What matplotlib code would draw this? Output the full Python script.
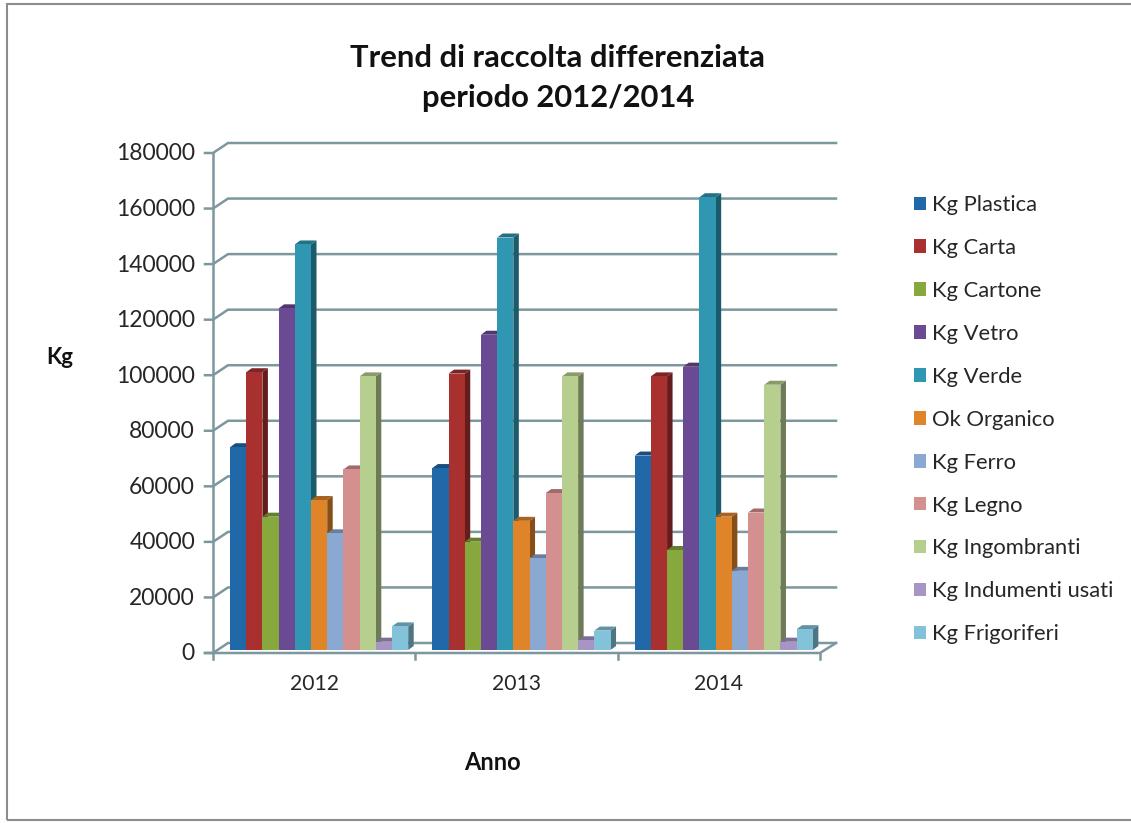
import numpy as np
import matplotlib
matplotlib.use('Agg')
import matplotlib.pyplot as plt
from matplotlib.colors import to_rgb
from matplotlib.patches import Rectangle

years = ['2012', '2013', '2014']
series = ['Kg Plastica', 'Kg Carta', 'Kg Cartone', 'Kg Vetro', 'Kg Verde', 'Ok Organico',
          'Kg Ferro', 'Kg Legno', 'Kg Ingombranti', 'Kg Indumenti usati', 'Kg Frigoriferi']
values_2012 = [73000, 100000, 48000, 123000, 146000, 54000, 42000, 65000, 98500, 3000, 8500]
values_2013 = [65500, 99500, 39000, 113500, 148500, 46500, 33000, 56500, 98500, 3500, 7000]
values_2014 = [70000, 98500, 36000, 102000, 163000, 48000, 28500, 49500, 95500, 3000, 7500]
colors = ['#2168a8', '#a8302e', '#86a83c', '#6a4a92', '#2f97b2', '#e0842a',
          '#8ba8d2', '#d48f8f', '#b6cf8f', '#a795c6', '#82c3da']
y_ticks = np.arange(0, 180001, 20000)

W, H = 1131, 823
line_col = '#7d979e'

fig = plt.figure(figsize=(W / 100, H / 100), dpi=100)
plt.rcParams['font.family'] = ['Lato', 'DejaVu Sans']
txt = '#262626'

# chart frame
fig.add_artist(Rectangle((7 / W, 1 - 820 / H), 1200 / W, 816 / H, fill=False, edgecolor='#8c8c8c', lw=1.5))

# front plane of the 3d box, pixels -> figure fraction
x0, x1, y0, y1 = 213, 820, 653, 153
ax = fig.add_axes([x0 / W, 1 - y0 / H, (x1 - x0) / W, (y0 - y1) / H])
ax.set_xlim(0, 3)
ax.set_ylim(0, 180000)
ax.axis('off')

px_x = 3 / (x1 - x0)
px_y = 180000 / (y0 - y1)
back_x, back_y = 15 * px_x, 10 * px_y

# back wall gridlines and floor
for t in y_ticks:
    ax.plot([-8 * px_x, 0, back_x, 3 + 16 * px_x], [t, t, t + back_y, t + back_y],
            color=line_col, lw=1.8, clip_on=False, zorder=1, solid_joinstyle='miter')
ax.plot([-8 * px_x, 3, 3 + 16 * px_x], [0, 0, back_y], color=line_col, lw=1.8, clip_on=False, zorder=1)
ax.plot([0, 0], [-6 * px_y, 180000], color=line_col, lw=1.8, clip_on=False, zorder=1)
for i in range(1, 4):
    ax.plot([i, i], [-6 * px_y, 0], color=line_col, lw=1.8, clip_on=False, zorder=1)

# bars, front face from bar(), side and top worked out from the value
bar_w = 16.2 * px_x
start = 17 * px_x
base = 3 * px_y
dx, dy = 5.5 * px_x, 4 * px_y
z = 2
for g, vals in enumerate([values_2012, values_2013, values_2014]):
    for i, v in enumerate(vals):
        c = np.array(to_rgb(colors[i]))
        left = g + start + i * bar_w
        right = left + bar_w
        top = base + v
        ax.fill([right, right + dx, right + dx, right], [base, base + dy, top + dy, top],
                color=c * 0.6, lw=0, clip_on=False, zorder=z)
        ax.fill([left, left + dx, right + dx, right], [top, top + dy, top + dy, top],
                color=c * 0.75, lw=0, clip_on=False, zorder=z)
        ax.bar(left, v, bar_w, bottom=base, align='edge', color=colors[i], lw=0,
               label=series[i] if g == 0 else None, zorder=z, clip_on=False)
        z += 0.01

# tick labels
for t in y_ticks:
    ax.text(-18 * px_x, t - 1 * px_y, str(t), ha='right', va='center', fontsize=16.5, color=txt, clip_on=False)
for i, y in enumerate(years):
    ax.text(i + 0.5, -31 * px_y, y, ha='center', va='center', fontsize=15.2, color=txt)

# titles
fig.text(558 / W, 1 - 78 / H, 'Trend di raccolta differenziata\nperiodo 2012/2014', ha='center', va='center',
         fontsize=22.3, fontweight='bold', color='#111111', linespacing=1.5)
fig.text(60 / W, 1 - 357 / H, 'Kg', ha='center', va='center', fontsize=16, fontweight='bold', color='#111111')
fig.text(492 / W, 1 - 762 / H, 'Anno', ha='center', va='center', fontsize=17, fontweight='bold', color='#111111')

leg = ax.legend(loc='upper left', bbox_to_anchor=(914 / W, 1 - 195 / H), bbox_transform=fig.transFigure,
                frameon=False, fontsize=15.8, labelspacing=1.045, handlelength=0.56, handleheight=0.56,
                handletextpad=0.28, borderpad=0, borderaxespad=0)
for t in leg.get_texts():
    t.set_color(txt)

plt.savefig('out.png', dpi=100)
